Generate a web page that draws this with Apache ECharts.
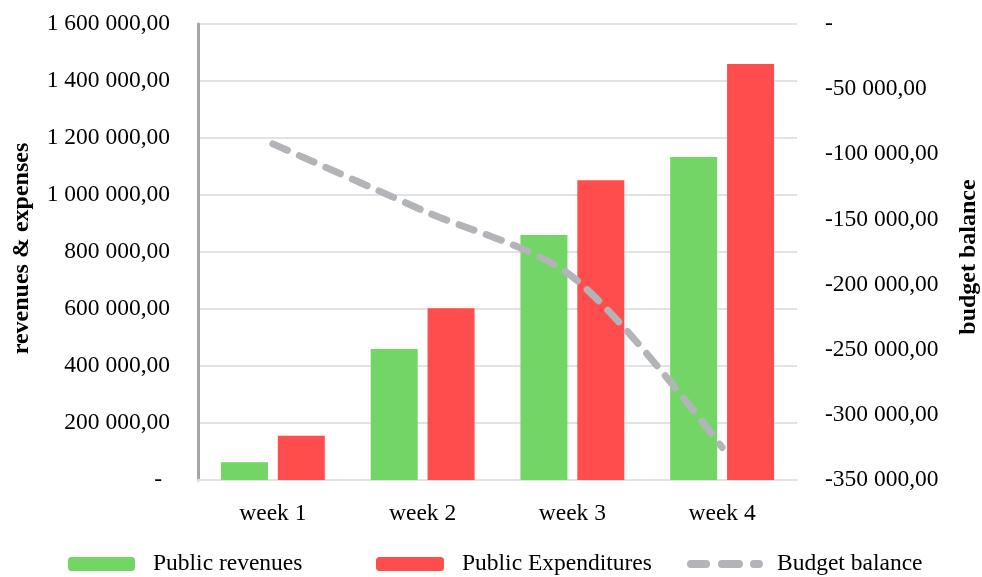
<!DOCTYPE html>
<html>
<head>
<meta charset="utf-8">
<script src="https://cdn.jsdelivr.net/npm/echarts@6/dist/echarts.min.js"></script>
<style>
  html, body { margin: 0; padding: 0; background: #ffffff; }
  #chart { width: 982px; height: 577px; }
</style>
</head>
<body>
<div id="chart"></div>
<script>
// Weekly public finances
const weeks = ['week 1', 'week 2', 'week 3', 'week 4'];
const revenues = [62000, 460000, 860000, 1133000];
const expenditures = [155000, 603000, 1052000, 1460000];
const balance = [-92000, -143000, -194000, -325000];

const FONT = '"Liberation Serif", "Times New Roman", serif';
const FS = 23.5;

// "1 600 000,00" style numbers, zero shown as a dash
function fmt(v) {
  if (v === 0) return '-';
  const neg = v < 0;
  const s = Math.abs(Math.round(v)).toString().replace(/\B(?=(\d{3})+(?!\d))/g, ' ');
  return (neg ? '-' : '') + s + ',00';
}

// dashed-line legend marker: two dashes and a short dot
const DASH_ICON = 'path://M4,0 H19 A4,4 0 0 1 19,8 H4 A4,4 0 0 1 4,0 Z ' +
  'M35,0 H52 A4,4 0 0 1 52,8 H35 A4,4 0 0 1 35,0 Z ' +
  'M67,0 H72 A4,4 0 0 1 72,8 H67 A4,4 0 0 1 67,0 Z';

const legendText = { fontFamily: FONT, fontSize: FS, color: '#000', padding: [0, 0, 0, 13] };

const chart = echarts.init(document.getElementById('chart'));

chart.setOption({
  animation: false,
  backgroundColor: '#ffffff',
  textStyle: { fontFamily: FONT },
  grid: { left: 198, right: 185, top: 24, bottom: 97, outerBoundsMode: 'none', containLabel: false },
  legend: [
    {
      data: ['Public revenues'],
      left: 68, top: 552, padding: 0,
      itemWidth: 67, itemHeight: 14, itemGap: 18,
      textStyle: legendText
    },
    {
      data: ['Public Expenditures'],
      left: 376, top: 552, padding: 0,
      itemWidth: 68, itemHeight: 14, itemGap: 18,
      textStyle: legendText
    },
    {
      data: [{ name: 'Budget balance', icon: DASH_ICON, itemStyle: { color: '#b3b4b7' } }],
      left: 687, top: 552, padding: 0,
      itemWidth: 76, itemHeight: 8, itemGap: 14,
      textStyle: { fontFamily: FONT, fontSize: FS, color: '#000', padding: [0, 0, 0, 9] }
    }
  ],
  xAxis: {
    type: 'category',
    data: weeks,
    axisLine: { lineStyle: { color: '#dfe3e8', width: 2 } },
    axisTick: { show: false },
    axisLabel: { fontFamily: FONT, fontSize: FS, color: '#000', margin: 22 }
  },
  yAxis: [
    {
      type: 'value',
      min: 0, max: 1600000, interval: 200000,
      name: 'revenues & expenses',
      nameLocation: 'middle',
      nameRotate: 90,
      nameGap: 164,
      nameTextStyle: { fontFamily: FONT, fontSize: 24, fontWeight: 'bold', color: '#000', padding: [0, 0, 0, 7] },
      axisLine: { show: true, lineStyle: { color: '#a6a6a6', width: 3 } },
      axisTick: { show: false },
      axisLabel: {
        fontFamily: FONT, fontSize: FS, color: '#000', margin: 28,
        formatter: v => (v === 0 ? '{z|-}' : fmt(v)),
        rich: { z: { fontFamily: FONT, fontSize: FS, color: '#000', padding: [0, 8, 0, 0] } }
      },
      splitLine: { lineStyle: { color: '#dfe3e8', width: 2 } }
    },
    {
      type: 'value',
      min: -350000, max: 0, interval: 50000,
      name: 'budget balance',
      nameLocation: 'middle',
      nameRotate: 90,
      nameGap: 160,
      nameTextStyle: { fontFamily: FONT, fontSize: 24, fontWeight: 'bold', color: '#000', padding: [0, 10, 0, 0] },
      axisLine: { show: false },
      axisTick: { show: false },
      axisLabel: { fontFamily: FONT, fontSize: FS, color: '#000', margin: 28, formatter: fmt },
      splitLine: { show: false }
    }
  ],
  series: [
    {
      name: 'Public revenues',
      type: 'bar',
      data: revenues,
      barWidth: 47,
      barGap: '21%',
      itemStyle: { color: '#72d566' }
    },
    {
      name: 'Public Expenditures',
      type: 'bar',
      data: expenditures,
      barWidth: 47,
      barGap: '21%',
      itemStyle: { color: '#ff4d4d' }
    },
    {
      name: 'Budget balance',
      type: 'line',
      yAxisIndex: 1,
      data: balance,
      smooth: 0.3,
      symbol: 'none',
      lineStyle: { color: '#b3b4b7', width: 7, type: [16, 13], cap: 'round' },
      itemStyle: { color: '#b3b4b7' },
      z: 5
    }
  ]
});
</script>
</body>
</html>
